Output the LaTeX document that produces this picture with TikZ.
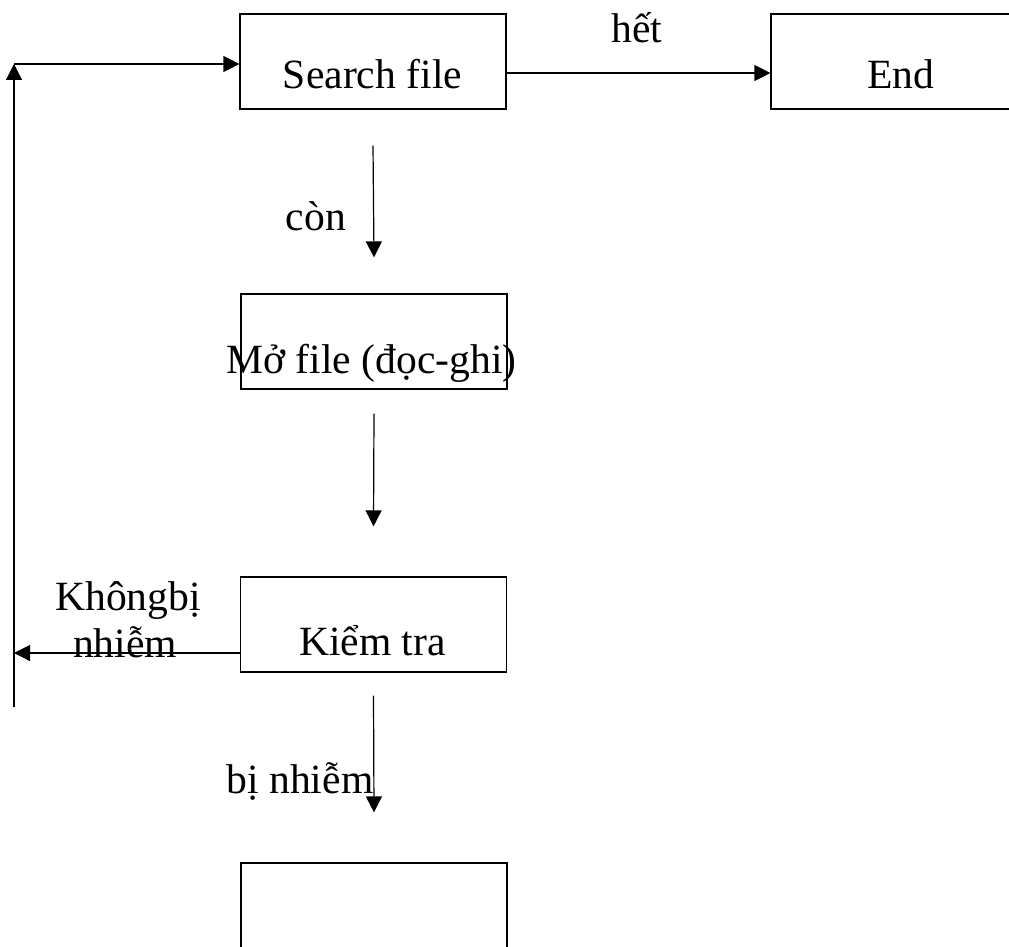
\documentclass[tikz,border=0pt]{standalone}
\usepackage{fontspec}
\setmainfont{Liberation Serif}
\usetikzlibrary{arrows.meta}
\begin{document}
\begin{tikzpicture}[x=1pt,y=-1pt,
  box/.style={draw, rectangle, line width=1.2pt, minimum width=266pt, minimum height=95pt, inner sep=0pt},
  txt/.style={anchor=base, inner sep=0pt, font=\fontsize{41.6}{47}\selectfont},
  arr/.style={line width=1.2pt, -{Triangle[length=16pt,width=16pt]}},
  ln/.style={line width=1.2pt}]
\clip (0,0) rectangle (1009,947);
\fill[white] (0,0) rectangle (1009,947);
% boxes
\node[box] (search) at (373,61.5) {};
\node[box, minimum width=280pt] (end) at (911,61.5) {};
\node[box] (mo) at (374,341.5) {};
\node[box] (kiem) at (373.5,624.5) {};
\node[box] (last) at (374,910.5) {};
% texts
\node[txt] (tsearch) at (372.5,89) {Search file};
\node[txt] (tend) at (901,89) {End};
\node[txt] (thet) at (637,43) {hết};
\node[txt] (tcon) at (316,230) {còn};
\node[txt] (tmo) at (371.5,373) {Mở file (đọc-ghi)};
\node[txt] (tkiem) at (372.5,655) {Kiểm tra};
\node[txt] (tkb1) at (128,610) {Khôngbị};
\node[txt] (tkb2) at (125,657) {nhiễm};
\node[txt] (tbi) at (300,793) {bị nhiễm};
% connectors
\draw[arr] ([yshift=-11.5pt]search.east) -- ([yshift=-11.5pt]end.west);
\draw[arr] ([yshift=-36pt]search.south) -- ([yshift=36pt]mo.north);
\draw[arr] ([yshift=-24pt]mo.south) -- ([yshift=50pt]kiem.north);
\draw[arr] ([yshift=-23pt]kiem.south) -- ([yshift=50pt]last.north);
\coordinate (lh) at (14,653);
\coordinate (bl) at (14,707);
\coordinate (tl) at (14,64);
\draw[arr] ([yshift=-28.5pt]kiem.west) -- (lh);
\draw[arr] (bl) -- (tl);
\draw[arr] (tl) -- ([yshift=-2.5pt]search.west);
\end{tikzpicture}
\end{document}
